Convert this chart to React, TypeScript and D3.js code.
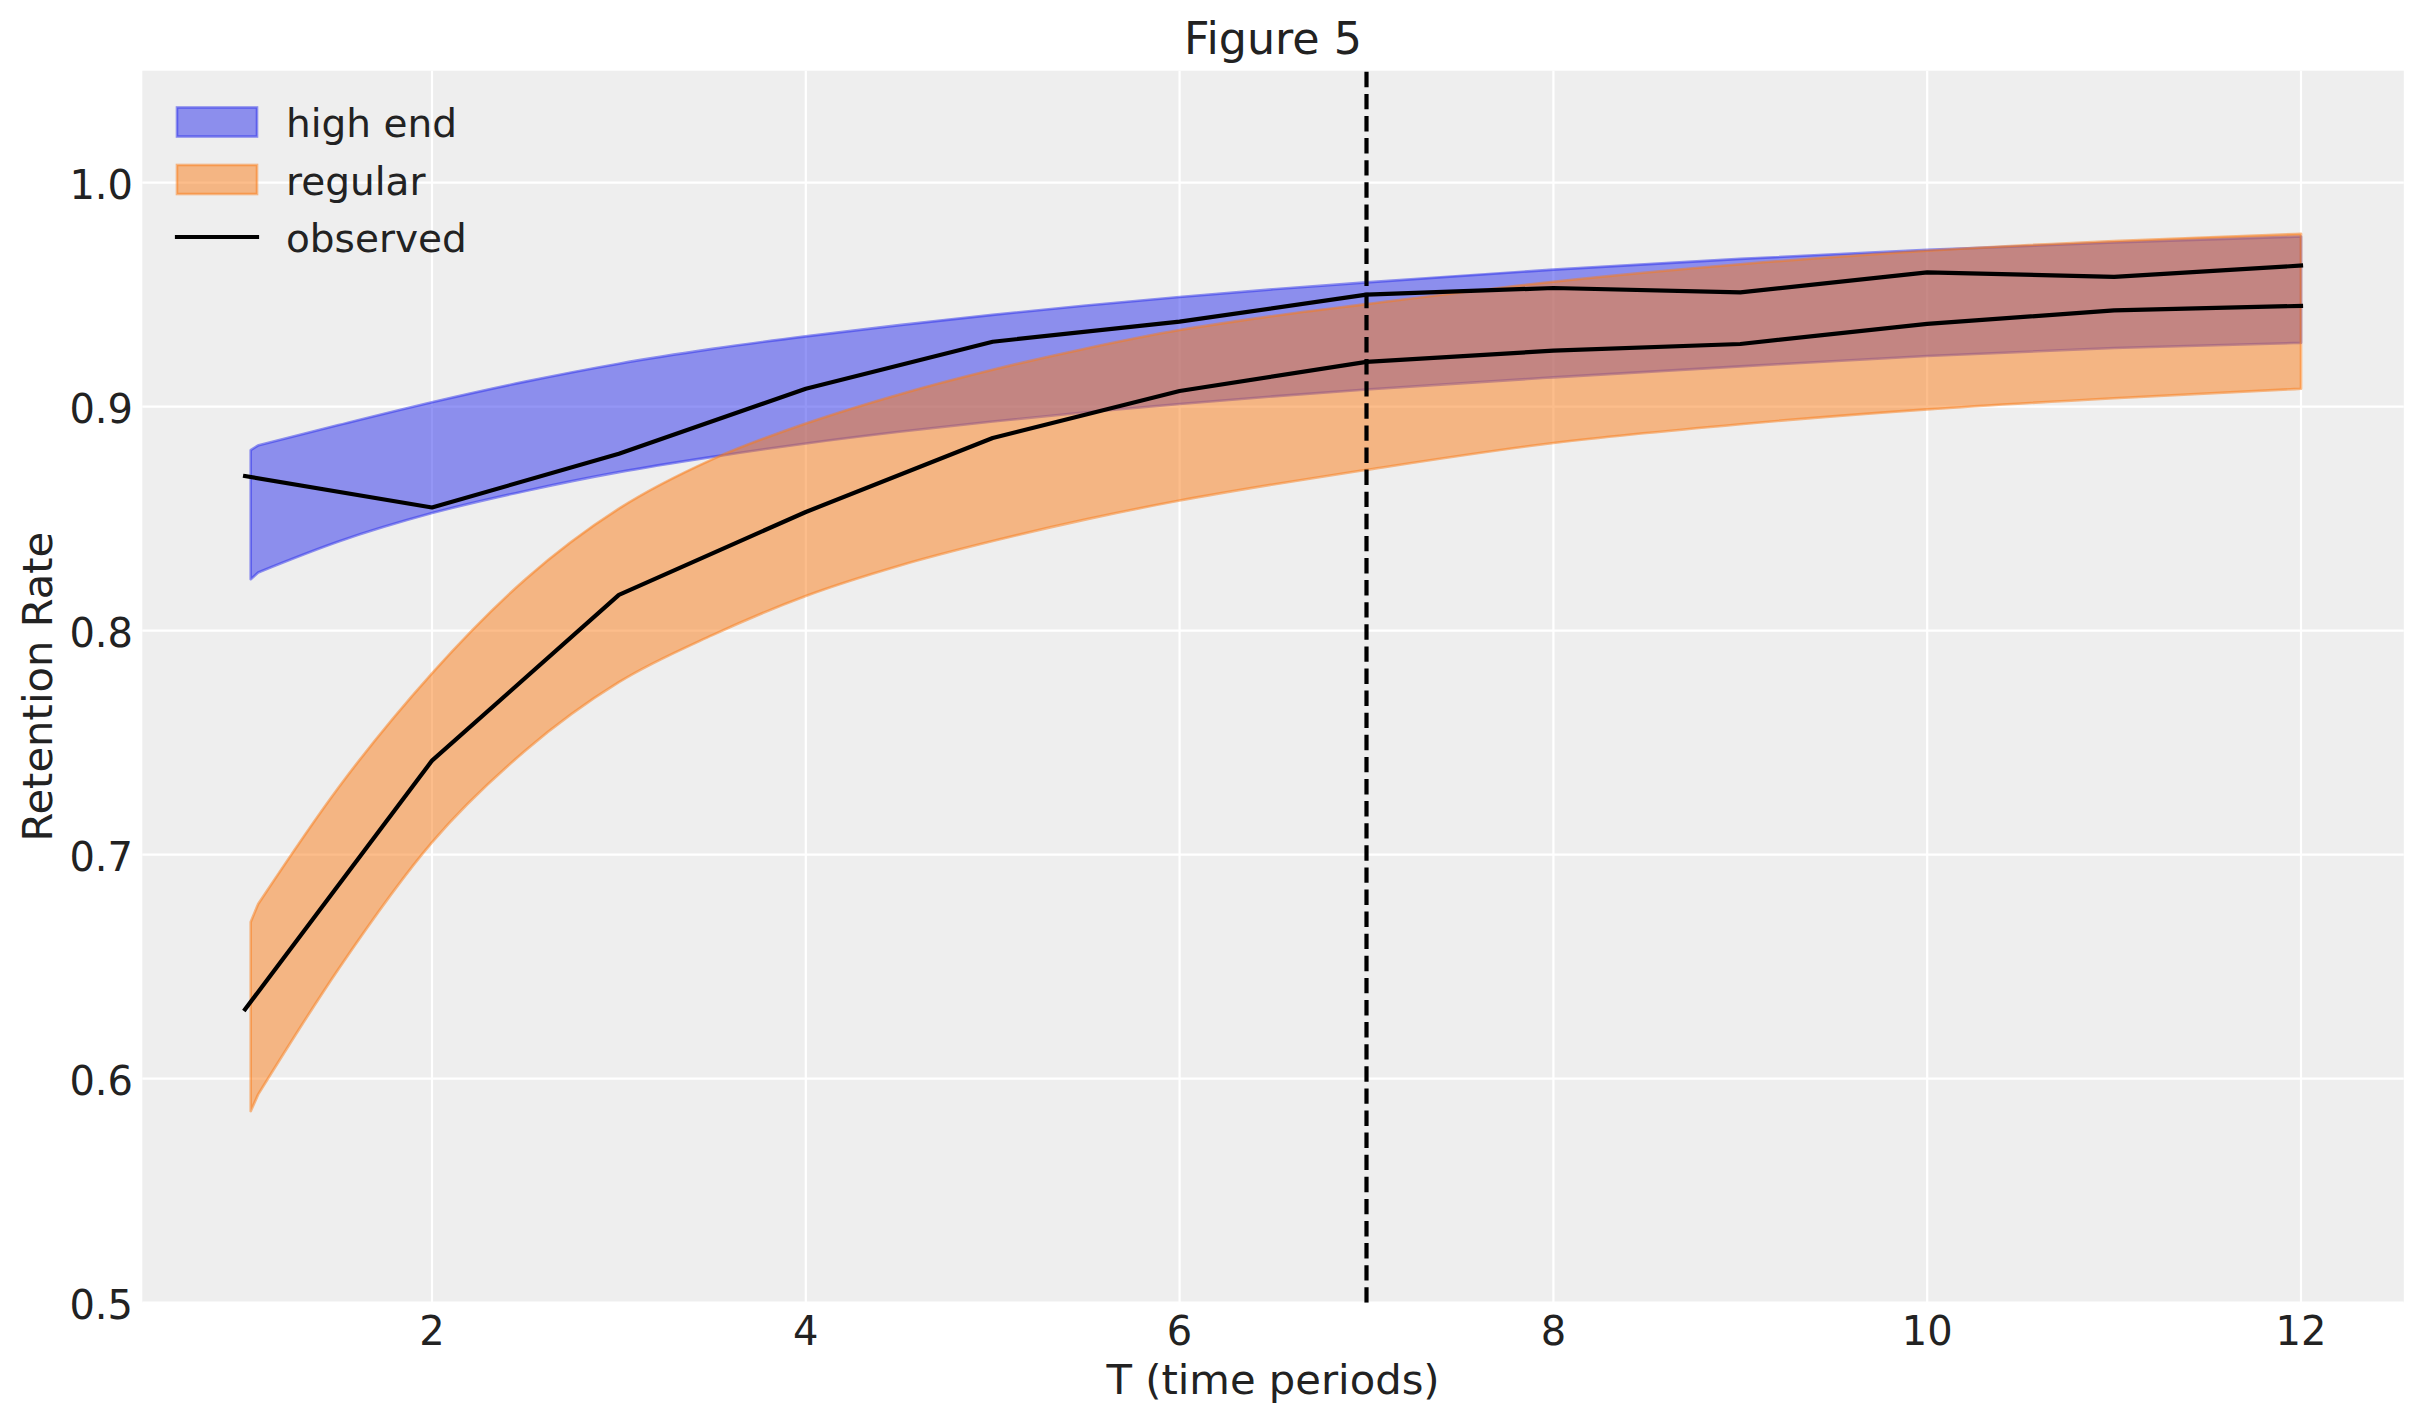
import React from 'react';
import * as d3 from 'd3';

// ---- data ----
const periods = [1, 2, 3, 4, 5, 6, 7, 8, 9, 10, 11, 12];
const observedHighEnd = [0.869, 0.855, 0.879, 0.908, 0.929, 0.938, 0.950, 0.953, 0.951, 0.960, 0.958, 0.963];
const observedRegular = [0.631, 0.742, 0.816, 0.853, 0.886, 0.907, 0.920, 0.925, 0.928, 0.937, 0.943, 0.945];

// band start (straight end segment), then the smooth part
const bandStartX = 1.03;
const highEndStart = { upper: 0.8806, lower: 0.823 };
const regularStart = { upper: 0.670, lower: 0.5855 };

const bandX = [1.07, 1.5, 2, 2.5, 3, 3.5, 4, 4.5, 5, 5.5, 6, 6.5, 7, 8, 9, 10, 11, 12];
const highEndUpper = [0.8827, 0.8918, 0.902, 0.9112, 0.9192, 0.9258, 0.9314, 0.9364, 0.941, 0.9452, 0.949, 0.9524, 0.9555, 0.9612, 0.966, 0.970, 0.9733, 0.976];
const highEndLower = [0.826, 0.8398, 0.8525, 0.8624, 0.8708, 0.8776, 0.8836, 0.8888, 0.8934, 0.8975, 0.9012, 0.9046, 0.9077, 0.9131, 0.918, 0.9226, 0.9262, 0.9285];
const regularUpper = [0.678, 0.730, 0.781, 0.823, 0.8545, 0.8765, 0.8925, 0.9055, 0.9165, 0.926, 0.9342, 0.9405, 0.9458, 0.9558, 0.9636, 0.9696, 0.974, 0.9772];
const regularLower = [0.593, 0.649, 0.7055, 0.7465, 0.777, 0.798, 0.8155, 0.829, 0.840, 0.8497, 0.8581, 0.8653, 0.8718, 0.8838, 0.8922, 0.8988, 0.9038, 0.908];

const xTicks = [2, 4, 6, 8, 10, 12];
const yTicks = [0.5, 0.6, 0.7, 0.8, 0.9, 1.0];
const cutoff = 7;

const legendItems = [
  { label: 'high end', kind: 'patch', color: '#2a2eec' },
  { label: 'regular', kind: 'patch', color: '#fa7c17' },
  { label: 'observed', kind: 'line', color: '#000000' },
];

const W = 2423;
const H = 1423;
const PLOT = { left: 142.3, right: 2403.8, top: 70.7, bottom: 1302.7 };
const FONT = '"DejaVu Sans", sans-serif';
const TEXT = '#222222';

export default function App() {
  const x = d3.scaleLinear().domain([0.45, 12.55]).range([PLOT.left, PLOT.right]);
  const y = d3.scaleLinear().domain([0.5, 1.05]).range([PLOT.bottom, PLOT.top]);

  const bandArea = (upper: number[], lower: number[], start: { upper: number; lower: number }) => {
    const smooth = d3
      .area<number>()
      .x((i) => x(bandX[i]))
      .y0((i) => y(lower[i]))
      .y1((i) => y(upper[i]))
      .curve(d3.curveMonotoneX)(bandX.map((_, i) => i)) as string;
    // area path: upper (left->right), lower (right->left), ends at lower[0]; add the start sliver
    const body = smooth.replace(/Z\s*$/, '');
    return `${body}L${x(bandStartX)},${y(start.lower)}L${x(bandStartX)},${y(start.upper)}Z`;
  };

  const obsLine = (vals: number[]) =>
    d3
      .line<number>()
      .x((d) => x(d))
      .y((_, i) => y(vals[i]))(periods) as string;

  const bands = [
    { d: bandArea(highEndUpper, highEndLower, highEndStart), color: '#2a2eec' },
    { d: bandArea(regularUpper, regularLower, regularStart), color: '#fa7c17' },
  ];

  return (
    <svg
      width={W}
      height={H}
      viewBox={`0 0 ${W} ${H}`}
      style={{ position: 'absolute', left: 0, top: 0, background: '#ffffff' }}
      fontFamily={FONT}
    >
      <defs>
        <clipPath id="plotclip">
          <rect x={PLOT.left} y={PLOT.top} width={PLOT.right - PLOT.left} height={PLOT.bottom - PLOT.top} />
        </clipPath>
      </defs>
      <rect x={PLOT.left} y={PLOT.top} width={PLOT.right - PLOT.left} height={PLOT.bottom - PLOT.top} fill="#eeeeee" />
      {/* grid */}
      {xTicks.map((t) => (
        <line key={'gx' + t} x1={x(t)} x2={x(t)} y1={PLOT.top} y2={PLOT.bottom} stroke="#ffffff" strokeWidth={2.2} />
      ))}
      {yTicks.map((t) => (
        <line key={'gy' + t} x1={PLOT.left} x2={PLOT.right} y1={y(t)} y2={y(t)} stroke="#ffffff" strokeWidth={2.2} />
      ))}
      <g clipPath="url(#plotclip)">
        {bands.map((b, i) => (
          <path
            key={'band' + i}
            d={b.d}
            fill={b.color}
            fillOpacity={0.5}
            stroke={b.color}
            strokeOpacity={0.5}
            strokeWidth={2.6}
            strokeLinejoin="round"
          />
        ))}
        {[observedHighEnd, observedRegular].map((vals, i) => (
          <path
            key={'obs' + i}
            d={obsLine(vals)}
            fill="none"
            stroke="#000000"
            strokeWidth={4.2}
            strokeLinejoin="round"
            strokeLinecap="square"
          />
        ))}
        <line
          x1={x(cutoff)}
          x2={x(cutoff)}
          y1={PLOT.bottom}
          y2={PLOT.top}
          stroke="#000000"
          strokeWidth={4.2}
          strokeDasharray="15.4 6.7"
        />
      </g>
      {/* ticks */}
      {xTicks.map((t) => (
        <text key={'tx' + t} x={x(t)} y={1345} textAnchor="middle" fontSize={40} fill={TEXT}>
          {String(t)}
        </text>
      ))}
      {yTicks.map((t) => (
        <text key={'ty' + t} x={133} y={y(t) + 16.6} textAnchor="end" fontSize={40} fill={TEXT}>
          {t.toFixed(1)}
        </text>
      ))}
      {/* labels */}
      <text x={(PLOT.left + PLOT.right) / 2} y={54} textAnchor="middle" fontSize={44.4} fill={TEXT}>
        Figure 5
      </text>
      <text x={(PLOT.left + PLOT.right) / 2} y={1394} textAnchor="middle" fontSize={41.7} fill={TEXT}>
        T (time periods)
      </text>
      <text
        transform={`translate(52, ${(PLOT.top + PLOT.bottom) / 2}) rotate(-90)`}
        textAnchor="middle"
        fontSize={41.7}
        fill={TEXT}
      >
        Retention Rate
      </text>
      {/* legend */}
      {legendItems.map((item, i) => {
        const cy = 122 + i * 57.5;
        return (
          <g key={'leg' + i}>
            {item.kind === 'patch' ? (
              <rect
                x={177}
                y={cy - 14.5}
                width={80}
                height={29}
                fill={item.color}
                fillOpacity={0.5}
                stroke={item.color}
                strokeOpacity={0.5}
                strokeWidth={2.6}
              />
            ) : (
              <line x1={177} x2={257} y1={cy} y2={cy} stroke={item.color} strokeWidth={4.2} strokeLinecap="square" />
            )}
            <text x={286} y={cy + 15} fontSize={39} fill={TEXT}>
              {item.label}
            </text>
          </g>
        );
      })}
    </svg>
  );
}
